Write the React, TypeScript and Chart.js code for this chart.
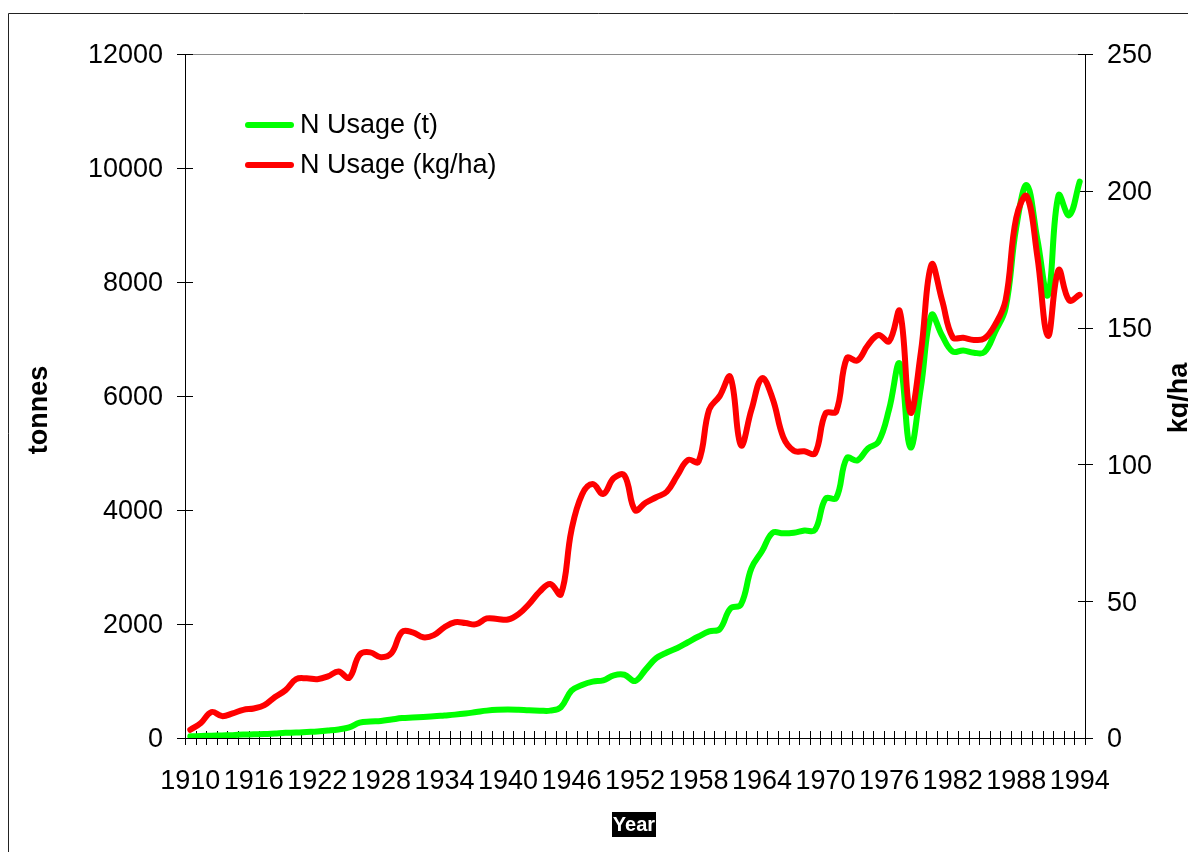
import { useEffect, useRef } from "react";
import { Chart, registerables } from "chart.js";

Chart.register(...registerables);

const years: string[] = [
  "1910","1911","1912","1913","1914","1915","1916","1917","1918","1919",
  "1920","1921","1922","1923","1924","1925","1926","1927","1928","1929",
  "1930","1931","1932","1933","1934","1935","1936","1937","1938","1939",
  "1940","1941","1942","1943","1944","1945","1946","1947","1948","1949",
  "1950","1951","1952","1953","1954","1955","1956","1957","1958","1959",
  "1960","1961","1962","1963","1964","1965","1966","1967","1968","1969",
  "1970","1971","1972","1973","1974","1975","1976","1977","1978","1979",
  "1980","1981","1982","1983","1984","1985","1986","1987","1988","1989",
  "1990","1991","1992","1993","1994",
];

const xTickLabels: string[] = [
  "1910","1916","1922","1928","1934","1940","1946","1952","1958","1964","1970","1976","1982","1988","1994",
];

// N Usage in tonnes (left axis)
const nUsageTonnes: number[] = [
  30, 35, 40, 45, 50, 60, 65, 70, 80, 90,
  95, 105, 115, 130, 150, 185, 270, 290, 300, 325,
  350, 360, 370, 380, 395, 410, 430, 455, 480, 495,
  500, 495, 485, 480, 480, 540, 830, 930, 990, 1010,
  1100, 1110, 1000, 1200, 1400, 1500, 1580, 1680, 1780, 1870,
  1910, 2270, 2340, 2980, 3280, 3600, 3590, 3600, 3640, 3650,
  4200, 4210, 4910, 4870, 5080, 5200, 5770, 6570, 5100, 6150,
  7420, 7060, 6780, 6800, 6760, 6770, 7120, 7540, 8950, 9700,
  8750, 7770, 9520, 9170, 9760,
];

// N Usage in kg/ha (right axis)
const nUsageKgHa: number[] = [
  3, 5.5, 9.5, 8, 9, 10.3, 10.8, 12, 15, 17.5,
  21.5, 21.8, 21.5, 22.5, 24.3, 22, 30.5, 31.3, 29.5, 31,
  38.8, 38.6, 36.8, 37.6, 40.5, 42.3, 42, 41.6, 43.7, 43.5,
  43.3, 45.3, 49, 53.5, 56.3, 52.5, 76, 89, 92.8, 89.2,
  95, 96, 83.3, 86, 88, 90, 96, 101.6, 101, 120,
  125, 132, 107, 120, 131.5, 124, 110, 105, 104.8, 104,
  118.7, 119.3, 138.8, 138, 143.6, 147.3, 145, 156, 119, 141,
  173, 160, 146.5, 146.3, 145.5, 146, 151, 160, 190, 198,
  176, 147, 171, 160, 162,
];

const seriesLabels = ["N Usage (t)", "N Usage (kg/ha)"];
const seriesColors = ["#00ff00", "#ff0000"];

const FONT = "'Liberation Sans', Arial, sans-serif";

const decorPlugin = {
  id: "decor",
  beforeDatasetsDraw(chart: any) {
    const { ctx, chartArea: ca } = chart;
    const yL = chart.scales.y;
    const yR = chart.scales.y1;
    ctx.save();
    // outer frame
    ctx.strokeStyle = "#222";
    ctx.lineWidth = 1;
    ctx.beginPath();
    ctx.moveTo(8.5, 900);
    ctx.lineTo(8.5, 13.5);
    ctx.lineTo(1300, 13.5);
    ctx.stroke();
    // plot area top border
    ctx.strokeStyle = "#8a8a8a";
    ctx.beginPath();
    ctx.moveTo(ca.left, Math.round(ca.top) + 0.5);
    ctx.lineTo(ca.right, Math.round(ca.top) + 0.5);
    ctx.stroke();
    // axes
    ctx.strokeStyle = "#000";
    ctx.beginPath();
    ctx.moveTo(Math.round(ca.left) + 0.5, ca.top);
    ctx.lineTo(Math.round(ca.left) + 0.5, ca.bottom);
    ctx.moveTo(Math.round(ca.right) + 0.5, ca.top);
    ctx.lineTo(Math.round(ca.right) + 0.5, ca.bottom);
    ctx.moveTo(ca.left, Math.round(ca.bottom) + 0.5);
    ctx.lineTo(ca.right, Math.round(ca.bottom) + 0.5);
    ctx.stroke();
    // y ticks
    ctx.beginPath();
    yL.ticks.forEach((t: any) => {
      const py = Math.round(yL.getPixelForValue(t.value)) + 0.5;
      ctx.moveTo(ca.left - 8, py);
      ctx.lineTo(ca.left + 8, py);
    });
    yR.ticks.forEach((t: any) => {
      const py = Math.round(yR.getPixelForValue(t.value)) + 0.5;
      ctx.moveTo(ca.right - 7, py);
      ctx.lineTo(ca.right + 8, py);
    });
    // x ticks at category boundaries
    const n = years.length;
    const w = (ca.right - ca.left) / n;
    for (let k = 0; k <= n; k++) {
      const px = Math.round(ca.left + k * w) + 0.5;
      ctx.moveTo(px, ca.bottom - 7);
      ctx.lineTo(px, ca.bottom + 7);
    }
    ctx.stroke();
    ctx.restore();
  },
  afterDraw(chart: any) {
    const { ctx } = chart;
    ctx.save();
    // legend
    const legendY = [125, 165];
    seriesLabels.forEach((lab, i) => {
      ctx.strokeStyle = seriesColors[i];
      ctx.lineWidth = 6;
      ctx.lineCap = "round";
      ctx.beginPath();
      ctx.moveTo(248, legendY[i]);
      ctx.lineTo(291, legendY[i]);
      ctx.stroke();
      ctx.fillStyle = "#000";
      ctx.font = `27px ${FONT}`;
      ctx.textAlign = "left";
      ctx.textBaseline = "middle";
      ctx.fillText(lab, 300, legendY[i] + 1);
    });
    // axis titles
    ctx.fillStyle = "#000";
    ctx.font = `bold 27px ${FONT}`;
    ctx.textAlign = "center";
    ctx.textBaseline = "alphabetic";
    ctx.save();
    ctx.translate(47, 410);
    ctx.rotate(-Math.PI / 2);
    ctx.fillText("tonnes", 0, 0);
    ctx.restore();
    ctx.save();
    ctx.translate(1187, 398);
    ctx.rotate(-Math.PI / 2);
    ctx.fillText("kg/ha", 0, 0);
    ctx.restore();
    // x title with black box
    ctx.fillStyle = "#000";
    ctx.fillRect(612, 812, 44, 25);
    ctx.fillStyle = "#fff";
    ctx.font = `bold 20px ${FONT}`;
    ctx.textAlign = "center";
    ctx.textBaseline = "middle";
    ctx.fillText("Year", 634, 825);
    ctx.restore();
  },
};

export default function App() {
  const ref = useRef<HTMLCanvasElement | null>(null);
  useEffect(() => {
    if (!ref.current) return;
    const tickFont = { family: FONT, size: 27 };
    const plainNumber = (v: any) => String(v);
    const chart = new Chart(ref.current, {
      type: "line",
      data: {
        labels: years,
        datasets: [
          {
            label: seriesLabels[0],
            data: nUsageTonnes,
            borderColor: seriesColors[0],
            backgroundColor: seriesColors[0],
            borderWidth: 6,
            pointRadius: 0,
            tension: 0.4,
            borderCapStyle: "round",
            borderJoinStyle: "round",
            yAxisID: "y",
            order: 1,
          },
          {
            label: seriesLabels[1],
            data: nUsageKgHa,
            borderColor: seriesColors[1],
            backgroundColor: seriesColors[1],
            borderWidth: 6,
            pointRadius: 0,
            tension: 0.4,
            borderCapStyle: "round",
            borderJoinStyle: "round",
            yAxisID: "y1",
            order: 0,
          },
        ],
      },
      options: {
        responsive: false,
        maintainAspectRatio: false,
        animation: false,
        devicePixelRatio: 1,
        layout: { padding: { top: 54, left: 0, right: 0, bottom: 0 } },
        plugins: {
          legend: { display: false },
          tooltip: { enabled: false },
        },
        scales: {
          x: {
            type: "category",
            offset: true,
            grid: { display: false, drawTicks: false },
            border: { display: false },
            ticks: {
              autoSkip: false,
              maxRotation: 0,
              minRotation: 0,
              padding: 27,
              color: "#000",
              font: tickFont,
              callback: (_v: any, idx: number) =>
                xTickLabels.includes(years[idx]) ? years[idx] : "",
            },
            afterFit: (s: any) => {
              s.height = 114;
            },
          },
          y: {
            position: "left",
            min: 0,
            max: 12000,
            grid: { display: false, drawTicks: false },
            border: { display: false },
            ticks: { stepSize: 2000, padding: 22, labelOffset: 2, color: "#000", font: tickFont, callback: plainNumber },
            afterFit: (s: any) => {
              s.width = 185;
            },
          },
          y1: {
            position: "right",
            min: 0,
            max: 250,
            grid: { display: false, drawTicks: false },
            border: { display: false },
            ticks: { stepSize: 50, padding: 22, labelOffset: 2, color: "#000", font: tickFont, callback: plainNumber },
            afterFit: (s: any) => {
              s.width = 103;
            },
          },
        },
      },
      plugins: [decorPlugin],
    } as any);
    return () => chart.destroy();
  }, []);
  return (
    <div style={{ position: "fixed", left: 0, top: 0, width: 1188, height: 852, background: "#fff" }}>
      <canvas ref={ref} width={1188} height={852} style={{ width: 1188, height: 852, display: "block" }} />
    </div>
  );
}
